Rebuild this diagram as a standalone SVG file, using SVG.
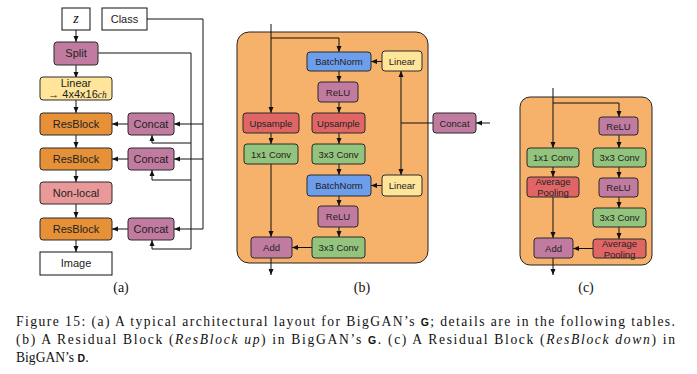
<svg xmlns="http://www.w3.org/2000/svg" width="697" height="374" viewBox="0 0 697 374">
<defs>
<marker id="ah" viewBox="0 0 6 6" refX="6" refY="3" markerWidth="6" markerHeight="6" markerUnits="userSpaceOnUse" orient="auto">
<path d="M0,0.5 L6,3 L0,5.5 z" fill="#111"/>
</marker>
<style>
.n{stroke:#2a2a2a;stroke-width:1}
.w{fill:#fff;stroke:#111;stroke-width:1}
.or{fill:#e69138}
.pu{fill:#c27ba0}
.ye{fill:#ffe599}
.pk{fill:#ea9999}
.rd{fill:#e06666}
.gr{fill:#93c47d}
.bl{fill:#6d9eeb}
.bg{fill:#f6b26b;stroke:#222;stroke-width:1}
.t{font-family:"Liberation Sans",Arial,sans-serif;font-size:11px;fill:#222;text-anchor:middle}
.s{font-family:"Liberation Sans",Arial,sans-serif;font-size:9.5px;fill:#222;text-anchor:middle}
.c{stroke:#111;stroke-width:1;fill:none}
.a{marker-end:url(#ah)}
.lab{font-family:"Liberation Serif","Times New Roman",serif;font-size:14px;fill:#111;text-anchor:middle}
.cap{font-family:"Liberation Serif","Times New Roman",serif;font-size:13.6px;fill:#111}
.sb{font-family:"Liberation Sans",Arial,sans-serif;font-weight:bold;font-size:10.5px}
</style>
</defs>

<!-- panel backgrounds -->
<rect class="bg" x="237" y="32" width="191" height="231" rx="12"/>
<rect class="bg" x="520" y="97" width="132" height="168" rx="10"/>

<!-- connectors -->
<g id="connectors">
<!-- (a) main chain -->
<path class="c a" d="M76 30 V42"/>
<path class="c a" d="M76 65 V78"/>
<path class="c a" d="M76 100 V113"/>
<path class="c a" d="M76 135 V148"/>
<path class="c a" d="M76 170 V182"/>
<path class="c a" d="M76 204 V218"/>
<path class="c a" d="M76 240 V252"/>
<!-- class line -->
<path class="c" d="M147 19 H203 V229"/>
<path class="c a" d="M203 124 H174"/>
<path class="c a" d="M203 159 H174"/>
<path class="c a" d="M203 229 H174"/>
<!-- split line -->
<path class="c" d="M98 53 H191 V249"/>
<path class="c a" d="M191 143 H152 V135"/>
<path class="c a" d="M191 180 H152 V170"/>
<path class="c a" d="M191 249 H152 V240"/>
<!-- concat to resblock -->
<path class="c a" d="M128 124 H112"/>
<path class="c a" d="M128 159 H112"/>
<path class="c a" d="M128 229 H112"/>

<!-- (b) -->
<path class="c a" d="M271 24 V113"/>
<path class="c a" d="M271 38 H339 V52"/>
<path class="c a" d="M382 61.5 H371"/>
<path class="c a" d="M339 71 V82"/>
<path class="c a" d="M339 102 V113"/>
<path class="c a" d="M271 133 V144"/>
<path class="c a" d="M339 133 V144"/>
<path class="c a" d="M339 164 V175"/>
<path class="c a" d="M382 185.5 H371"/>
<path class="c a" d="M339 196 V206"/>
<path class="c a" d="M339 227 V237"/>
<path class="c a" d="M312 247.5 H292"/>
<path class="c a" d="M271 164 V237"/>
<path class="c a" d="M271 258 V275"/>
<path class="c a" d="M490 123 H476"/>
<path class="c" d="M433 123 H401"/>
<path class="c a" d="M401 123 V71"/>
<path class="c a" d="M401 123 V175"/>

<!-- (c) -->
<path class="c a" d="M553 88 V148"/>
<path class="c a" d="M553 103 H619 V117"/>
<path class="c a" d="M619 135 V148"/>
<path class="c a" d="M553 167 V177"/>
<path class="c a" d="M619 167 V178"/>
<path class="c a" d="M619 197 V208"/>
<path class="c a" d="M619 227 V239"/>
<path class="c a" d="M593 248.5 H573"/>
<path class="c a" d="M553 197 V238"/>
<path class="c a" d="M553 258 V275"/>
</g>

<!-- (a) nodes -->
<g id="z"><rect class="w" x="62" y="8" width="28" height="22"/><text x="76" y="23" font-family="'Liberation Serif', serif" font-style="italic" font-size="14" text-anchor="middle" fill="#111">z</text></g>
<g id="class"><rect class="w" x="102" y="8" width="45" height="22"/><text class="t" x="124.5" y="23">Class</text></g>
<g id="split"><rect class="n pu" x="54" y="42" width="44" height="23" rx="3"/><text class="t" x="76" y="57">Split</text></g>
<g id="linear"><rect class="n ye" x="40" y="77" width="72" height="23" rx="3"/><text class="t" x="76" y="86.5" font-size="10.5">Linear</text><text class="t" x="77.5" y="97.5" font-size="8">→ 4x4x16<tspan font-family="'Liberation Serif', serif" font-style="italic" font-size="9.5">ch</tspan></text></g>
<g id="resblock1"><rect class="n or" x="40" y="113" width="72" height="22" rx="3"/><text class="t" x="76" y="128">ResBlock</text></g>
<g id="resblock2"><rect class="n or" x="40" y="148" width="72" height="22" rx="3"/><text class="t" x="76" y="163">ResBlock</text></g>
<g id="nonlocal"><rect class="n pk" x="40" y="182" width="72" height="22" rx="3"/><text class="t" x="76" y="197">Non-local</text></g>
<g id="resblock3"><rect class="n or" x="40" y="218" width="72" height="22" rx="3"/><text class="t" x="76" y="233">ResBlock</text></g>
<g id="image"><rect class="w" x="40" y="252" width="72" height="23"/><text class="t" x="76" y="267">Image</text></g>
<g id="concat1"><rect class="n pu" x="128" y="113" width="46" height="22" rx="3"/><text class="t" x="151" y="128">Concat</text></g>
<g id="concat2"><rect class="n pu" x="128" y="148" width="46" height="22" rx="3"/><text class="t" x="151" y="163">Concat</text></g>
<g id="concat3"><rect class="n pu" x="128" y="218" width="46" height="22" rx="3"/><text class="t" x="151" y="233">Concat</text></g>
<text class="lab" x="121" y="292">(a)</text>

<!-- (b) nodes -->
<g id="b-bn1"><rect class="n bl" x="307" y="52" width="64" height="19" rx="3"/><text class="s" x="339" y="65">BatchNorm</text></g>
<g id="b-lin1"><rect class="n ye" x="382" y="51" width="40" height="20" rx="3"/><text class="s" x="402" y="64.5">Linear</text></g>
<g id="b-relu1"><rect class="n pu" x="318" y="82" width="40" height="20" rx="3"/><text class="s" x="338" y="95.5">ReLU</text></g>
<g id="b-up1"><rect class="n rd" x="243" y="113" width="56" height="20" rx="3"/><text class="s" x="271" y="126.5">Upsample</text></g>
<g id="b-up2"><rect class="n rd" x="312" y="113" width="53" height="20" rx="3"/><text class="s" x="338.5" y="126.5">Upsample</text></g>
<g id="b-c11"><rect class="n gr" x="244" y="144" width="54" height="20" rx="3"/><text class="s" x="271" y="157.5">1x1 Conv</text></g>
<g id="b-c33a"><rect class="n gr" x="312" y="144" width="53" height="20" rx="3"/><text class="s" x="338.5" y="157.5">3x3 Conv</text></g>
<g id="b-bn2"><rect class="n bl" x="307" y="175" width="64" height="21" rx="3"/><text class="s" x="339" y="189">BatchNorm</text></g>
<g id="b-lin2"><rect class="n ye" x="382" y="175" width="40" height="21" rx="3"/><text class="s" x="402" y="189">Linear</text></g>
<g id="b-relu2"><rect class="n pu" x="318" y="206" width="40" height="21" rx="3"/><text class="s" x="338" y="220">ReLU</text></g>
<g id="b-c33b"><rect class="n gr" x="312" y="237" width="53" height="21" rx="3"/><text class="s" x="338.5" y="251">3x3 Conv</text></g>
<g id="b-add"><rect class="n pu" x="251" y="237" width="41" height="21" rx="3"/><text class="s" x="271.5" y="251">Add</text></g>
<g id="b-concat"><rect class="n pu" x="433" y="113" width="43" height="20" rx="3"/><text class="s" x="454.5" y="126.5">Concat</text></g>
<text class="lab" x="362" y="292">(b)</text>

<!-- (c) nodes -->
<g id="c-relu1"><rect class="n pu" x="599" y="117" width="39" height="18" rx="3"/><text class="s" x="618.5" y="129.5">ReLU</text></g>
<g id="c-c11"><rect class="n gr" x="527" y="148" width="52" height="19" rx="3"/><text class="s" x="553" y="161">1x1 Conv</text></g>
<g id="c-c33a"><rect class="n gr" x="593" y="148" width="53" height="19" rx="3"/><text class="s" x="619.5" y="161">3x3 Conv</text></g>
<g id="c-pool1"><rect class="n rd" x="527" y="177" width="52" height="20" rx="3"/><text class="s" x="553" y="185">Average</text><text class="s" x="553" y="196">Pooling</text></g>
<g id="c-relu2"><rect class="n pu" x="599" y="178" width="39" height="19" rx="3"/><text class="s" x="618.5" y="191">ReLU</text></g>
<g id="c-c33b"><rect class="n gr" x="593" y="208" width="53" height="19" rx="3"/><text class="s" x="619.5" y="221">3x3 Conv</text></g>
<g id="c-pool2"><rect class="n rd" x="593" y="239" width="53" height="19" rx="3"/><text class="s" x="619.5" y="246.5">Average</text><text class="s" x="619.5" y="257.5">Pooling</text></g>
<g id="c-add"><rect class="n pu" x="534" y="238" width="39" height="20" rx="3"/><text class="s" x="553.5" y="251.5">Add</text></g>
<text class="lab" x="586" y="292">(c)</text>

<!-- caption -->
<text class="cap" x="16" y="326" textLength="659" lengthAdjust="spacing">Figure 15: (a) A typical architectural layout for BigGAN’s <tspan class="sb">G</tspan>; details are in the following tables.</text>
<text class="cap" x="16" y="344" textLength="659" lengthAdjust="spacing">(b) A Residual Block (<tspan font-style="italic">ResBlock up</tspan>) in BigGAN’s <tspan class="sb">G</tspan>. (c) A Residual Block (<tspan font-style="italic">ResBlock down</tspan>) in</text>
<text class="cap" x="16" y="362">BigGAN’s <tspan class="sb">D</tspan>.</text>
</svg>
